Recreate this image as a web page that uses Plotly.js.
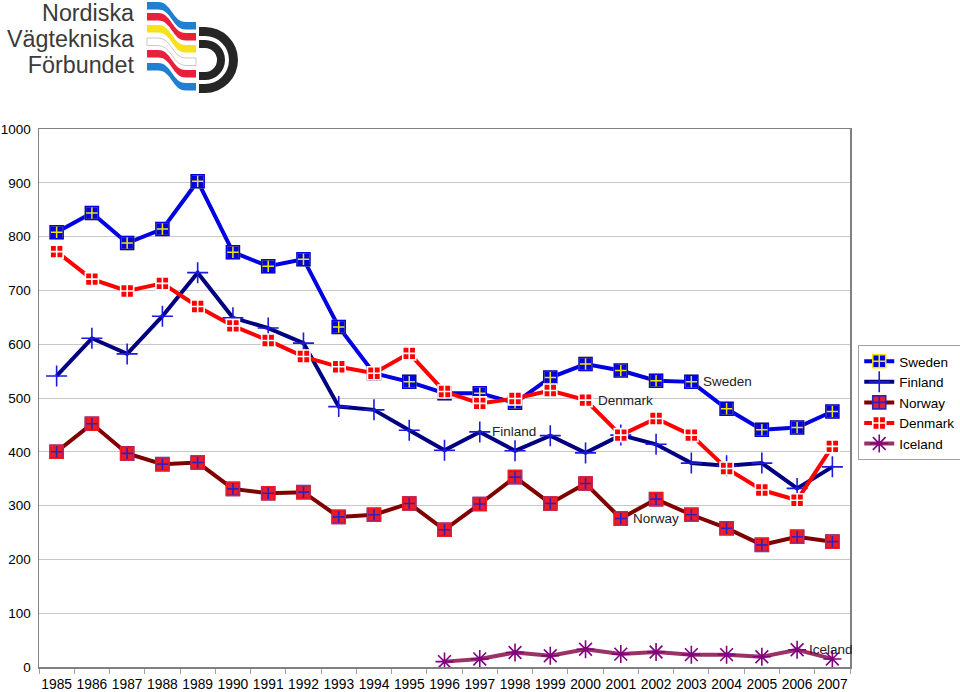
<!DOCTYPE html>
<html>
<head>
<meta charset="utf-8">
<script src="https://cdn.plot.ly/plotly-3.0.1.min.js"></script>
<style>
  html, body { margin: 0; padding: 0; background: #fff; }
  #wrap { position: relative; width: 960px; height: 692px; }
  #chart { position: absolute; left: 0; top: 0; width: 960px; height: 692px; }
  #logo { position: absolute; left: 0; top: 0; pointer-events: none; }
</style>
</head>
<body>
<div id="wrap">
  <div id="chart"></div>
  <svg id="logo" width="250" height="100" viewBox="0 0 250 100">
    <g font-family="Liberation Sans, Arial, sans-serif" font-size="23.3" fill="#3a3a3a" text-anchor="end">
      <text x="134" y="21">Nordiska</text>
      <text x="134" y="47">Vägtekniska</text>
      <text x="134" y="73">Förbundet</text>
    </g>
    <g id="stripes"></g>
    <g fill="#262626">
      <path d="M199,27 L205,27 A33,33 0 0 1 205,93 L199,93 L199,84 L205,84 A24,24 0 0 0 205,36 L199,36 Z"/>
      <path d="M199,40 L205,40 A20,20 0 0 1 205,80 L199,80 L199,72 L205,72 A12,12 0 0 0 205,48 L199,48 Z"/>
    </g>
  </svg>
</div>
<script>
// ---- data ----
const years = ["1985","1986","1987","1988","1989","1990","1991","1992","1993","1994","1995","1996",
               "1997","1998","1999","2000","2001","2002","2003","2004","2005","2006","2007"];
const sweden  = [808, 844, 788, 814, 903, 771, 745, 758, 632, 546, 530, 509, 509, 491, 538, 563, 551, 532, 530, 480, 441, 445, 475];
const finland = [541, 611, 582, 652, 733, 649, 630, 602, 484, 478, 440, 403, 437, 402, 430, 398, 431, 414, 379, 374, 379, 332, 372];
const norway  = [400, 452, 397, 377, 380, 331, 323, 325, 279, 283, 304, 255, 303, 353, 304, 341, 276, 312, 283, 258, 227, 242, 233];
const denmark = [772, 721, 699, 713, 670, 634, 607, 577, 558, 546, 583, 512, 490, 499, 514, 496, 431, 462, 431, 369, 329, 310, 410];
const icelandYears = ["1996","1997","1998","1999","2000","2001","2002","2003","2004","2005","2006","2007"];
const iceland = [10, 15, 27, 21, 33, 24, 28, 23, 23, 19, 32, 15];
const seriesNames = ["Sweden", "Finland", "Norway", "Denmark", "Iceland"];
// year at which each series name label sits
const labelAt = {Sweden: "2003", Finland: "1997", Norway: "2001", Denmark: "2000", Iceland: "2006"};

// ---- logo stripes ----
(function(){
  const g = document.getElementById('stripes');
  const bands = [[2,'#1f7fd0','none'],[13,'#e8203a','none'],[25,'#f7e21a','none'],[38,'#ffffff','#bbbbbb'],[50,'#e8203a','none'],[63,'#1f7fd0','none']];
  bands.forEach(b => {
    const y = b[0], t = 7.5, d = 20;
    const p = `M147,${y} L158,${y} C172,${y} 172,${y+d} 186,${y+d} L196,${y+d} L196,${y+d+t} L186,${y+d+t} C172,${y+d+t} 172,${y+t} 158,${y+t} L147,${y+t} Z`;
    const el = document.createElementNS('http://www.w3.org/2000/svg','path');
    el.setAttribute('d', p); el.setAttribute('fill', b[1]);
    if (b[2] !== 'none') { el.setAttribute('stroke', b[2]); el.setAttribute('stroke-width', '0.8'); }
    g.appendChild(el);
  });
})();

const FONT = "Liberation Sans, Arial, sans-serif";
// outline overlay so the flag squares keep a plain edge
function edge(x, y, color) {
  return {x: x, y: y, mode: "markers", showlegend: false, hoverinfo: "skip",
          marker: {symbol: "square-open", size: 13, color: color, line: {color: color, width: 1.5}}};
}
const traces = [
  {name: "Sweden", x: years, y: sweden, mode: "lines+markers",
   line: {color: "#0000e0", width: 4},
   marker: {symbol: "square-cross", size: 13, color: "#0000e0", line: {color: "#f2e600", width: 1.5}}},
  edge(years, sweden, "#0000e0"),
  {name: "Finland", x: years, y: finland, mode: "lines+markers",
   line: {color: "#000080", width: 4},
   marker: {symbol: "cross-thin", size: 15, color: "#1a1ae0", line: {color: "#1a1ae0", width: 1.6}}},
  {name: "Norway", x: years, y: norway, mode: "lines+markers",
   line: {color: "#800000", width: 4},
   marker: {symbol: "square-cross", size: 13, color: "#ee1c25", line: {color: "#3020c0", width: 1.6}}},
  edge(years, norway, "#ee1c25"),
  {name: "Denmark", x: years, y: denmark, mode: "lines+markers",
   line: {color: "#ff0000", width: 4},
   marker: {symbol: "square-cross", size: 13, color: "#ff0000", line: {color: "#ffffff", width: 1.6}}},
  {name: "Iceland", x: icelandYears, y: iceland, mode: "lines+markers",
   line: {color: "#993366", width: 4},
   marker: {symbol: "asterisk-open", size: 15, color: "#800080", line: {color: "#800080", width: 1.6}}}
];

const dataByName = {Sweden: [years, sweden], Finland: [years, finland], Norway: [years, norway],
                    Denmark: [years, denmark], Iceland: [icelandYears, iceland]};
const annotations = seriesNames.map(n => {
  const xs = dataByName[n][0], ys = dataByName[n][1];
  const i = xs.indexOf(labelAt[n]);
  return {x: years.indexOf(xs[i]), y: ys[i], xref: "x", yref: "y", text: n, showarrow: false,
          xanchor: "left", yanchor: "middle", xshift: 10,
          font: {family: FONT, size: 13.5, color: "#222"}};
});

const layout = {
  width: 960, height: 692,
  margin: {l: 39, r: 110, t: 129, b: 25},
  paper_bgcolor: "#ffffff", plot_bgcolor: "#ffffff",
  font: {family: FONT, size: 13.5, color: "#000"},
  showlegend: true,
  legend: {xref: "container", yref: "container", x: 0.894, y: 0.5014, xanchor: "left", yanchor: "top",
           bordercolor: "#a0a0a0", borderwidth: 1, bgcolor: "#fff",
           font: {family: FONT, size: 13.5, color: "#000"},
           tracegroupgap: 0, itemwidth: 30},
  xaxis: {type: "category", showgrid: false, showline: true, mirror: true,
          linecolor: "#808080", linewidth: 1.5, ticks: "outside", tickson: "boundaries",
          ticklen: 5, tickcolor: "#a0a0a0", tickangle: 0, automargin: false,
          tickfont: {family: FONT, size: 13.8, color: "#000"},
          ticklabelstandoff: 4, range: [-0.5, 22.5]},
  yaxis: {range: [0, 1000], dtick: 100, tick0: 0, showgrid: true, gridcolor: "#c8c8c8", gridwidth: 1,
          zeroline: false, showline: true, mirror: true, linecolor: "#808080", linewidth: 1.5,
          ticks: "", ticklabelstandoff: 4, automargin: false,
          tickfont: {family: FONT, size: 13.5, color: "#000"}},
  annotations: annotations
};

Plotly.newPlot("chart", traces, layout, {displayModeBar: false, staticPlot: true});
</script>
</body>
</html>
